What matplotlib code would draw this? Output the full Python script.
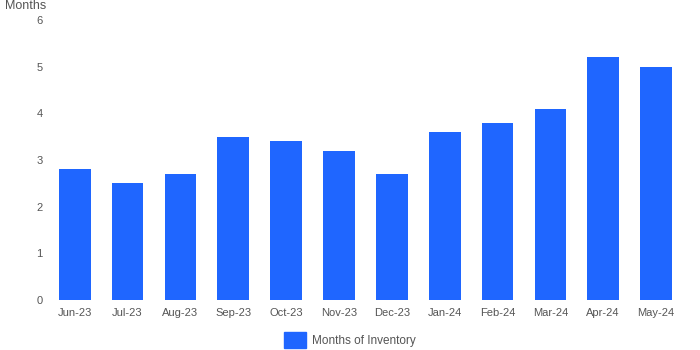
import matplotlib
matplotlib.use("Agg")
import matplotlib.pyplot as plt
from matplotlib.patches import Patch

plt.rcParams['font.family'] = ['Liberation Sans', 'DejaVu Sans']

months = ['Jun-23', 'Jul-23', 'Aug-23', 'Sep-23', 'Oct-23', 'Nov-23',
          'Dec-23', 'Jan-24', 'Feb-24', 'Mar-24', 'Apr-24', 'May-24']
inventory = [2.8, 2.5, 2.7, 3.5, 3.4, 3.2, 2.7, 3.6, 3.8, 4.1, 5.2, 5.0]
bar_color = '#1F66FF'
text_color = '#555555'

fig = plt.figure(figsize=(7, 3.5), dpi=100)
ax = fig.add_axes([0.069, 0.143, 0.906, 0.8])

x = range(len(months))
ax.bar(x, inventory, width=0.6, color=bar_color)

ax.set_xlim(-0.5, len(months) - 0.5)
ax.set_ylim(0, 6)
ax.set_yticks(range(0, 7))
ax.set_xticks(list(x))
ax.set_xticklabels(months)
ax.tick_params(length=0, labelsize=8, colors=text_color)
ax.tick_params(axis='y', pad=4)
ax.tick_params(axis='x', pad=6)
for s in ax.spines.values():
    s.set_visible(False)

fig.text(0.007, 0.984, 'Months', fontsize=9, color=text_color, va='center', ha='left')

handle = [Patch(color=bar_color, label='Months of Inventory')]
fig.legend(handles=handle, loc='center', bbox_to_anchor=(0.5, 0.029), frameon=False,
           fontsize=8.5, labelcolor=text_color, handlelength=1.85, handleheight=1.7,
           handletextpad=0.5, borderpad=0)

fig.savefig('out.png', dpi=100)
